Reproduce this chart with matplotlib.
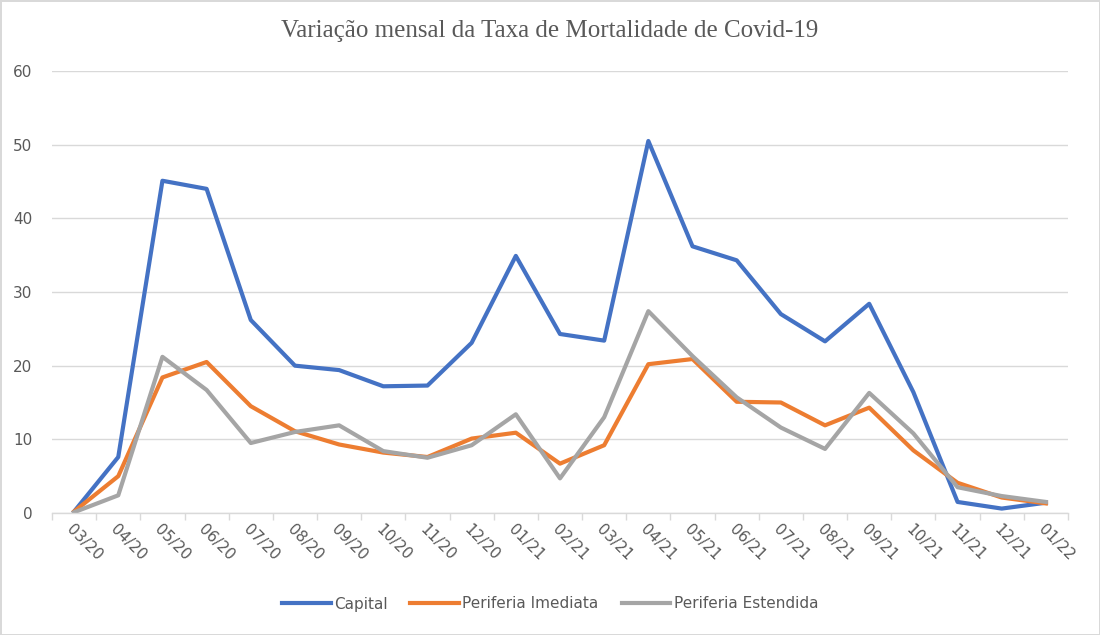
import matplotlib
matplotlib.use('Agg')
import matplotlib.pyplot as plt

meses = ['03/20', '04/20', '05/20', '06/20', '07/20', '08/20', '09/20', '10/20', '11/20', '12/20',
         '01/21', '02/21', '03/21', '04/21', '05/21', '06/21', '07/21', '08/21', '09/21', '10/21',
         '11/21', '12/21', '01/22']
capital = [0.2, 7.6, 45.1, 44.0, 26.2, 20.0, 19.4, 17.2, 17.3, 23.1, 34.9, 24.3, 23.4, 50.5,
           36.2, 34.3, 27.0, 23.3, 28.4, 16.4, 1.5, 0.6, 1.4]
imediata = [0.2, 5.0, 18.4, 20.5, 14.5, 11.1, 9.3, 8.2, 7.6, 10.1, 10.9, 6.7, 9.2, 20.2,
            20.9, 15.1, 15.0, 11.9, 14.3, 8.5, 4.1, 2.1, 1.3]
estendida = [0.1, 2.4, 21.2, 16.7, 9.5, 11.0, 11.9, 8.4, 7.5, 9.2, 13.4, 4.7, 13.0, 27.4,
             21.3, 15.7, 11.6, 8.7, 16.3, 10.8, 3.5, 2.3, 1.5]

cinza_txt = '#595959'

fig = plt.figure(figsize=(11, 6.35), dpi=100)
fig.patch.set_edgecolor('#d9d9d9')
fig.patch.set_linewidth(2)
ax = fig.add_axes([52/1100, 1-513/635, 1016/1100, 442/635])

x = list(range(len(meses)))
ax.plot(x, capital, color='#4472C4', lw=3, label='Capital', solid_joinstyle='round')
ax.plot(x, imediata, color='#ED7D31', lw=3, label='Periferia Imediata', solid_joinstyle='round')
ax.plot(x, estendida, color='#A5A5A5', lw=3, label='Periferia Estendida', solid_joinstyle='round')

ax.set_xlim(-0.5, len(meses) - 0.5)
ax.set_ylim(0, 60)
ax.set_yticks(range(0, 61, 10))
ax.grid(axis='y', color='#d9d9d9', lw=1)
ax.set_axisbelow(True)
for s in ['top', 'right', 'left']:
    ax.spines[s].set_visible(False)
ax.spines['bottom'].set_color('#d9d9d9')
ax.spines['bottom'].set_linewidth(1)

# ticks entre categorias, rotulos no centro
ax.set_xticks([i - 0.5 for i in range(len(meses) + 1)])
ax.set_xticklabels([])
ax.tick_params(axis='x', length=5, color='#d9d9d9', width=1)
ax.set_xticks(x, minor=True)
ax.set_xticklabels(meses, minor=True, rotation=-45, ha='left', va='top',
                   rotation_mode='anchor', fontsize=11, color=cinza_txt)
ax.tick_params(axis='x', which='minor', length=0, pad=6)
ax.tick_params(axis='y', length=0, pad=14, labelsize=11, labelcolor=cinza_txt)

fig.text(0.5, 1 - 31/635, 'Variação mensal da Taxa de Mortalidade de Covid-19',
         ha='center', va='center', fontsize=18, color=cinza_txt, family='Liberation Serif')

leg = fig.legend(loc='center', bbox_to_anchor=(0.5, 1 - 604/635), ncol=3, frameon=False,
                 prop={'size': 11}, handlelength=3.2, columnspacing=1.5,
                 handletextpad=0.2)
for t in leg.get_texts():
    t.set_color(cinza_txt)

fig.savefig('out.png', dpi=100)
